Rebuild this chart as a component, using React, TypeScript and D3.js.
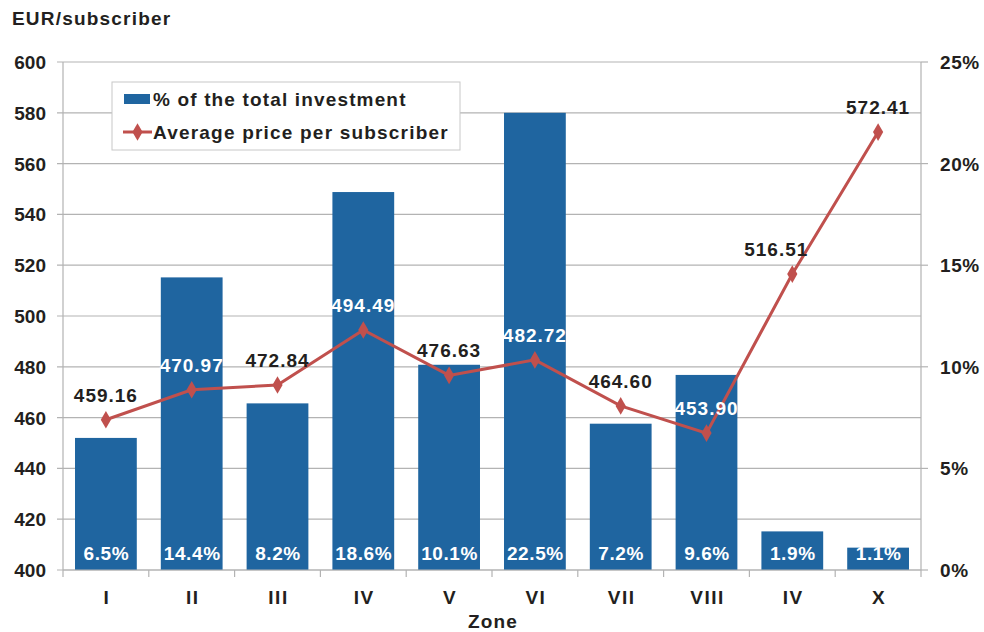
import React from "react";
import * as d3 from "d3";

const zones = ["I", "II", "III", "IV", "V", "VI", "VII", "VIII", "IV", "X"];
const investmentPct = [6.5, 14.4, 8.2, 18.6, 10.1, 22.5, 7.2, 9.6, 1.9, 1.1];
const avgPrice = [459.16, 470.97, 472.84, 494.49, 476.63, 482.72, 464.6, 453.9, 516.51, 572.41];
const leftTicks = [400, 420, 440, 460, 480, 500, 520, 540, 560, 580, 600];
const rightTicks = [0, 5, 10, 15, 20, 25];
const whiteLabelIdx = [1, 3, 5, 7];
const labelShiftIdx = 8;

const W = 984, H = 632;
const M = { left: 63, right: 921, top: 62, bottom: 570 };
const FONT = "'Liberation Sans', Arial, sans-serif";
const TXT = "#231f20";
const BAR = "#1F65A0";
const LINE = "#C0504D";
const GRID = "#b3b3b3";

export default function App() {
  const x = d3.scaleBand<number>().domain(d3.range(zones.length)).range([M.left, M.right]).paddingInner(0.28).paddingOuter(0.14);
  const xb = d3.scaleBand<number>().domain(d3.range(zones.length)).range([M.left, M.right]);
  const yL = d3.scaleLinear().domain([400, 600]).range([M.bottom, M.top]);
  const yR = d3.scaleLinear().domain([0, 25]).range([M.bottom, M.top]);
  const cx = (i: number) => (xb(i) as number) + xb.bandwidth() / 2;
  const line = d3.line<number>().x((_, i) => cx(i)).y((d) => yL(d));
  const diamond = d3.symbol().type(d3.symbolDiamond).size(90)();
  const fmt = d3.format(".2f");

  return (
    <svg width={W} height={H} style={{ position: "absolute", left: 0, top: 0, background: "#fff" }} fontFamily={FONT}>
      {/* gridlines */}
      {leftTicks.map((t) => (
        <g key={t}>
          <line x1={M.left - 6} x2={M.right} y1={yL(t)} y2={yL(t)} stroke={GRID} strokeWidth={1.2} />
          <text x={46} y={yL(t) + 7} textAnchor="end" fontSize={19} fontWeight="bold" fill={TXT}>{t}</text>
        </g>
      ))}
      {rightTicks.map((t) => (
        <g key={t}>
          <line x1={M.right} x2={M.right + 7} y1={yR(t)} y2={yR(t)} stroke={GRID} strokeWidth={1.2} />
          <text x={940} y={yR(t) + 7} textAnchor="start" fontSize={19} fontWeight="bold" fill={TXT} letterSpacing={0.6}>{t}%</text>
        </g>
      ))}
      <line x1={M.left} x2={M.left} y1={M.top} y2={M.bottom} stroke={GRID} strokeWidth={1.2} />
      <line x1={M.right} x2={M.right} y1={M.top} y2={M.bottom} stroke={GRID} strokeWidth={1.2} />
      {/* bars */}
      {investmentPct.map((v, i) => (
        <rect key={i} x={x(i)} y={yR(v)} width={x.bandwidth()} height={M.bottom - yR(v)} fill={BAR} />
      ))}
      <line x1={M.left} x2={M.right} y1={M.bottom} y2={M.bottom} stroke={GRID} strokeWidth={1.2} />
      {d3.range(zones.length + 1).map((i) => {
        const xx = M.left + i * xb.bandwidth();
        return <line key={i} x1={xx} x2={xx} y1={M.bottom} y2={M.bottom + 7} stroke={GRID} strokeWidth={1.2} />;
      })}
      {investmentPct.map((v, i) => (
        <text key={i} x={cx(i) + 0.5} y={560} textAnchor="middle" fontSize={19} fontWeight="bold" fill="#fff" letterSpacing={0.6}>{v.toFixed(1)}%</text>
      ))}
      {/* line */}
      <path d={line(avgPrice) as string} fill="none" stroke={LINE} strokeWidth={3} />
      {avgPrice.map((v, i) => (
        <path key={i} d={diamond as string} transform={`translate(${cx(i)},${yL(v)})`} fill={LINE} />
      ))}
      {avgPrice.map((v, i) => (
        <text key={i} x={cx(i) + (i === labelShiftIdx ? -16 : 0)} y={yL(v) - 18} textAnchor="middle" fontSize={19} fontWeight="bold"
          fill={whiteLabelIdx.includes(i) ? "#fff" : TXT} letterSpacing={1}>{fmt(v)}</text>
      ))}
      {/* x labels */}
      {zones.map((z, i) => (
        <text key={i} x={cx(i) + 1} y={604} textAnchor="middle" fontSize={19} fontWeight="bold" fill={TXT} letterSpacing={1.5}>{z}</text>
      ))}
      <text x={(M.left + M.right) / 2 + 1} y={628} textAnchor="middle" fontSize={19} fontWeight="bold" fill={TXT} letterSpacing={1.2}>Zone</text>
      <text x={12} y={25} fontSize={19} fontWeight="bold" fill={TXT} letterSpacing={1.2}>EUR/subscriber</text>
      {/* legend */}
      <rect x={112} y={82} width={348} height={68} fill="#fff" stroke="#c8c8c8" strokeWidth={1} />
      <rect x={124} y={94} width={26} height={10} fill={BAR} />
      <text x={153} y={106} fontSize={19} fontWeight="bold" fill={TXT} letterSpacing={1.15}>% of the total investment</text>
      <line x1={123} x2={152} y1={132} y2={132} stroke={LINE} strokeWidth={3} />
      <path d={diamond as string} transform="translate(137.5,132)" fill={LINE} />
      <text x={153} y={139} fontSize={19} fontWeight="bold" fill={TXT} letterSpacing={1.2}>Average price per subscriber</text>
    </svg>
  );
}
